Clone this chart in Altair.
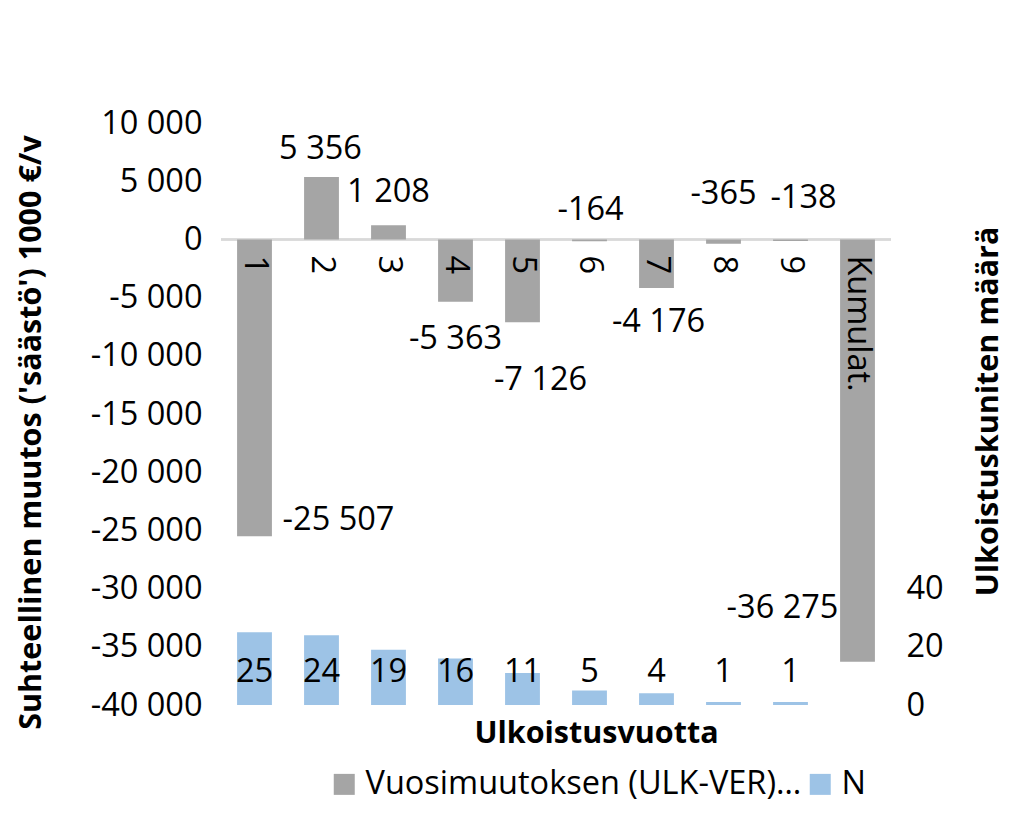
import altair as alt
import pandas as pd

# ---------------- data ----------------
categories = ["1", "2", "3", "4", "5", "6", "7", "8", "9", "Kumulat."]
savings = [-25507, 5356, 1208, -5363, -7126, -164, -4176, -365, -138, -36275]
n_counts = [25, 24, 19, 16, 11, 5, 4, 1, 1, None]
left_ticks = [-40000, -35000, -30000, -25000, -20000, -15000, -10000, -5000, 0, 5000, 10000]
right_ticks = [0, 20, 40]

# manual data-label offsets (pixels), as placed in the original
label_dx = [84, -1, 0, 0, 18, 1, 2, 0, 13, -75]
label_dy = [-16, -28, -33, 37, 58, -31, 34, -50, -43, -54]

SERIES1 = "Vuosimuutoksen (ULK-VER)…"
SERIES2 = "N"
GRAY = "#a5a5a5"
BLUE = "#9dc3e6"
FONT = "Open Sans"
FS = 32.5
TFS = 30.5
W, H = 670, 582


def fmt(v):
    s = f"{abs(v):,}".replace(",", " ")
    return ("-" if v < 0 else "") + s


df = pd.DataFrame({
    "cat": categories,
    "value": savings,
    "N": n_counts,
    "label": [fmt(v) for v in savings],
    "nlabel": ["" if n is None else str(n) for n in n_counts],
    "s1": [SERIES1] * len(categories),
    "s2": [SERIES2] * len(categories),
})

x_enc = alt.X(
    "cat:N", sort=categories,
    scale=alt.Scale(paddingInner=0.48, paddingOuter=0.24),
    axis=alt.Axis(labels=False, ticks=False, domain=False, grid=False,
                  title="Ulkoistusvuotta", titleFont=FONT, titleFontSize=TFS,
                  titleFontWeight="bold", titleColor="black",
                  titleX=375, titleY=28, titleBaseline="middle", titleAlign="center"),
)

yl_scale = alt.Scale(domain=[-40000, 10000], nice=False, zero=False)
left_axis = alt.Axis(
    values=left_ticks,
    labelExpr="(datum.value < 0 ? '-' : '') + replace(format(abs(datum.value), ','), ',', ' ')",
    grid=False, ticks=False, domain=False,
    labelFont=FONT, labelFontSize=FS, labelColor="black", labelPadding=19,
    title="Suhteellinen muutos ('säästö') 1000 €/v",
    titleFont=FONT, titleFontSize=TFS, titleFontWeight="bold", titleColor="black",
    titleX=-190, titleY=309, titleAngle=270, titleBaseline="middle", titleAlign="center",
)
yr_scale = alt.Scale(domain=[0, 200], nice=False, zero=True)
right_axis = alt.Axis(
    orient="right", values=right_ticks,
    grid=False, ticks=False, domain=False,
    labelFont=FONT, labelFontSize=FS, labelColor="black", labelPadding=15,
    title="Ulkoistuskuniten määrä",
    titleFont=FONT, titleFontSize=TFS, titleFontWeight="bold", titleColor="black",
    titleX=106, titleY=288, titleAngle=270, titleBaseline="alphabetic", titleAlign="center",
)

color_scale = alt.Scale(domain=[SERIES1, SERIES2], range=[GRAY, BLUE])
legend = alt.Legend(
    orient="none", legendX=107, legendY=645, direction="horizontal", title=None,
    symbolType="square", symbolSize=441, symbolStrokeWidth=0, symbolOpacity=1,
    labelFont=FONT, labelFontSize=FS, labelColor="black", labelLimit=900,
    labelOffset=5, columnPadding=2, padding=0,
)

yl = alt.Y("value:Q", scale=yl_scale, axis=left_axis)
y0 = alt.Y(datum=0, type="quantitative", scale=yl_scale, axis=left_axis)

zero_rule = alt.Chart().mark_rule(color="#d9d9d9", strokeWidth=1.5).encode(y=y0)

gray_bars = alt.Chart().mark_bar().encode(
    x=x_enc, y=yl,
    color=alt.Color("s1:N", scale=color_scale, legend=legend),
)

cat_labels = alt.Chart().mark_text(
    angle=90, align="left", baseline="middle", dx=16,
    font=FONT, fontSize=FS, color="black",
).encode(x=x_enc, y=y0, text="cat:N")

value_labels = []
for i, c in enumerate(categories):
    value_labels.append(
        alt.Chart().mark_text(
            align="center", baseline="middle", dx=label_dx[i], dy=label_dy[i],
            font=FONT, fontSize=FS, color="black",
        ).transform_filter(alt.datum.cat == c).encode(x=x_enc, y=yl, text="label:N")
    )

left = alt.layer(zero_rule, gray_bars, cat_labels, *value_labels)

yr = alt.Y("N:Q", scale=yr_scale, axis=right_axis)
blue_bars = alt.Chart().mark_bar().transform_filter("isValid(datum.N)").encode(
    x=x_enc, y=yr,
    color=alt.Color("s2:N", scale=color_scale, legend=legend),
)
n_labels = alt.Chart().mark_text(
    align="center", baseline="middle", font=FONT, fontSize=FS, color="black",
).transform_filter("isValid(datum.N)").encode(
    x=x_enc,
    y=alt.Y(datum=11.5, type="quantitative", scale=yr_scale, axis=right_axis),
    text="nlabel:N",
)
right = alt.layer(blue_bars, n_labels)

chart = alt.layer(left, right, data=df).resolve_scale(y="independent").properties(
    width=W, height=H,
    autosize=alt.AutoSizeParams(type="none"),
    padding={"left": 213, "top": 115, "right": 116, "bottom": 126},
    background="white",
).configure_view(stroke=None)

chart.save("out.html", embed_options={"renderer": "svg", "actions": False})
